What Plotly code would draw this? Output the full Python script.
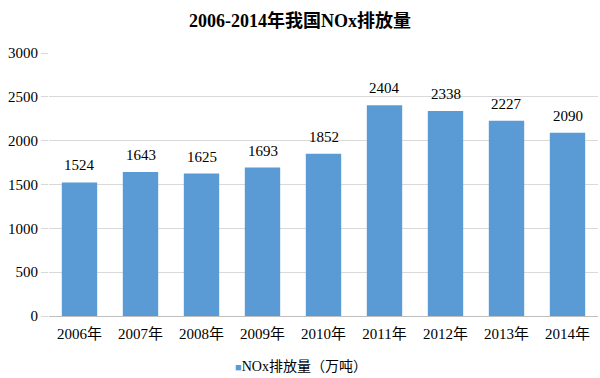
import plotly.graph_objects as go

years = ["2006年", "2007年", "2008年", "2009年", "2010年", "2011年", "2012年", "2013年", "2014年"]
nox = [1524, 1643, 1625, 1693, 1852, 2404, 2338, 2227, 2090]
yticks = [0, 500, 1000, 1500, 2000, 2500, 3000]
series_name = "NOx排放量（万吨）"
bar_color = "#5B9BD5"

font_fam = "Liberation Serif, Noto Sans CJK SC, serif"

fig = go.Figure()
fig.add_trace(go.Bar(
    x=years, y=nox, name=series_name,
    marker=dict(color=bar_color, line=dict(width=0)),
    showlegend=False,
))
for yr, v in zip(years, nox):
    fig.add_annotation(x=yr, y=v, text=str(v), showarrow=False, yanchor="bottom",
                       yshift=7, font=dict(family=font_fam, size=15, color="#000000"))
# legend (marker + label)
fig.add_annotation(xref="paper", yref="paper", x=(301 - 49) / 549, y=-50 / 263,
                   xanchor="center", yanchor="middle", showarrow=False,
                   text=f"<span style='color:{bar_color};font-size:11px'>■</span>{series_name}",
                   font=dict(family=font_fam, size=14, color="#000000"))
fig.update_layout(
    width=600, height=378,
    paper_bgcolor="white", plot_bgcolor="white",
    margin=dict(l=49, r=2, t=53, b=62, autoexpand=False),
    title=dict(text="<b>2006-2014年我国NOx排放量</b>", x=0.5, xanchor="center",
               xref="container", y=0.945, yanchor="middle",
               font=dict(family=font_fam, size=18, color="#000000")),
    bargap=0.42,
    showlegend=False,
    font=dict(family=font_fam, color="#000000"),
)
fig.update_yaxes(range=[0, 3000], tickvals=yticks, showgrid=True, gridcolor="#D9D9D9",
                 gridwidth=1, zeroline=False, ticks="outside", ticklen=7, tickcolor="#D9D9D9",
                 automargin=False,
                 tickfont=dict(family=font_fam, size=15, color="#000000"), showline=False)
fig.update_xaxes(showline=True, linecolor="#BFBFBF", linewidth=1, ticks="", automargin=False,
                 ticklabelstandoff=4,
                 tickfont=dict(family=font_fam, size=15, color="#000000"))
fig.write_html("out.html", post_script="document.body.style.margin='0';",
               config={"displayModeBar": False})
